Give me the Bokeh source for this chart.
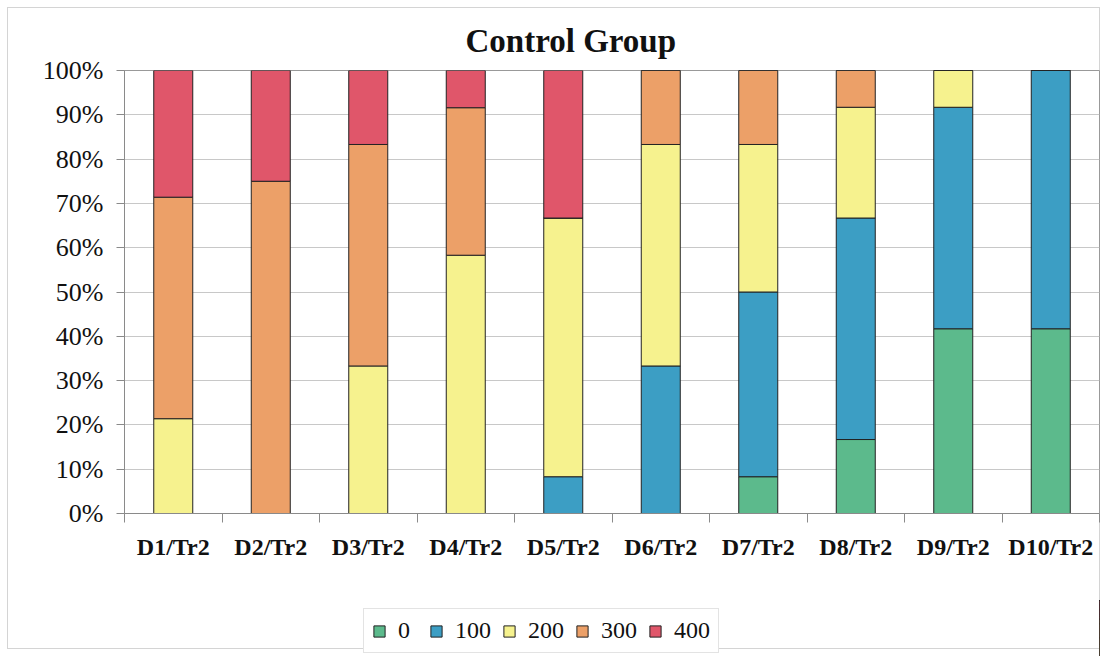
from bokeh.plotting import figure
from bokeh.layouts import column
from bokeh.models import Range1d, FixedTicker, PrintfTickFormatter
from bokeh.embed import file_html
from bokeh.resources import INLINE

categories = ["D1/Tr2", "D2/Tr2", "D3/Tr2", "D4/Tr2", "D5/Tr2",
              "D6/Tr2", "D7/Tr2", "D8/Tr2", "D9/Tr2", "D10/Tr2"]
levels = ["0", "100", "200", "300", "400"]
v0   = [0, 0, 0, 0, 0, 0, 8.3, 16.7, 41.7, 41.7]
v100 = [0, 0, 0, 0, 8.3, 33.3, 41.7, 50.0, 50.0, 58.3]
v200 = [21.4, 0, 33.3, 58.3, 58.4, 50.0, 33.3, 25.0, 8.3, 0]
v300 = [50.0, 75.0, 50.0, 33.3, 0, 16.7, 16.7, 8.3, 0, 0]
v400 = [28.6, 25.0, 16.7, 8.4, 33.3, 0, 0, 0, 0, 0]
colors = ["#5cba8c", "#3c9ec4", "#f6f28e", "#eca068", "#e0566a"]
y_ticks = list(range(0, 101, 10))

xpos = [i + 1 for i in range(len(categories))]
data = {"x": xpos}
for name, vals in zip(levels, [v0, v100, v200, v300, v400]):
    data[name] = vals

SERIF = "Liberation Serif"
BAR_LINE = "#222222"

# ---------------- main chart ----------------
p = figure(width=1107, height=600, frame_width=975, frame_height=443,
           output_backend="svg", toolbar_location=None,
           x_range=Range1d(0.5, len(categories) + 0.5), y_range=Range1d(0, 100),
           min_border_left=124, min_border_right=8, min_border_top=70, min_border_bottom=87)
p.border_fill_alpha = 0

p.vbar_stack(levels, x="x", width=0.4, source=data, color=colors,
             line_color=BAR_LINE, line_width=1)

p.title.text = "Control Group"
p.title.text_font = SERIF
p.title.text_font_size = "33px"
p.title.text_font_style = "bold"
p.title.text_color = "#111111"
p.title.align = "left"
p.title.offset = 341
p.title.standoff = 24

xa = p.xaxis[0]
xa.ticker = FixedTicker(ticks=xpos, minor_ticks=[x - 0.5 for x in xpos] + [xpos[-1] + 0.5])
xa.major_label_overrides = {x: c for x, c in zip(xpos, categories)}
xa.major_tick_out = 0
xa.major_tick_in = 0
xa.major_tick_line_color = None
xa.minor_tick_out = 9
xa.minor_tick_in = 0
xa.minor_tick_line_color = "#8a8a8a"
xa.axis_line_color = "#8a8a8a"
xa.major_label_text_font = SERIF
xa.major_label_text_font_size = "24px"
xa.major_label_text_font_style = "bold"
xa.major_label_text_color = "#111111"
xa.major_label_standoff = 11

ya = p.yaxis[0]
ya.ticker = FixedTicker(ticks=y_ticks)
ya.formatter = PrintfTickFormatter(format="%d%%")
ya.major_tick_out = 8
ya.major_tick_in = 0
ya.minor_tick_line_color = None
ya.major_tick_line_color = "#8a8a8a"
ya.axis_line_color = "#8a8a8a"
ya.major_label_text_font = SERIF
ya.major_label_text_font_size = "26px"
ya.major_label_text_color = "#111111"
ya.major_label_standoff = 13

p.xgrid.visible = False
p.ygrid.ticker = FixedTicker(ticks=y_ticks)
p.ygrid.grid_line_color = "#c8c8c8"
p.outline_line_color = "#999999"

# ---------------- legend strip ----------------
# Same series, drawn outside the strip's ranges so only the legend shows.
lf = figure(width=1107, height=56, title=None, output_backend="svg", toolbar_location=None,
            x_range=Range1d(-3, -2), y_range=Range1d(0, 100),
            x_axis_location=None, y_axis_location=None, min_border=0)
lf.border_fill_alpha = 0
lf.background_fill_alpha = 0
lf.outline_line_color = None
lf.grid.visible = False
lf.vbar_stack(levels, x="x", width=0.4, source=data, color=colors,
              line_color=BAR_LINE, line_width=1, legend_label=levels)

lg = lf.legend[0]
lg.orientation = "horizontal"
lg.margin = 0
lg.location = (239, 3)
lg.padding = 8
lg.spacing = 11
lg.label_standoff = 12
lg.glyph_width = 14
lg.glyph_height = 14
lg.label_text_font = SERIF
lg.label_text_font_size = "24px"
lg.label_text_color = "#111111"
lg.border_line_color = "#c8c8c8"
lg.background_fill_color = "#ffffff"
lg.background_fill_alpha = 1.0

layout = column(p, lf, spacing=0)
layout.styles = {"box-shadow": "inset 0 0 0 7px #ffffff, inset 0 0 0 8px #d4d4d4"}

open("out.html", "w").write(file_html(layout, INLINE))
